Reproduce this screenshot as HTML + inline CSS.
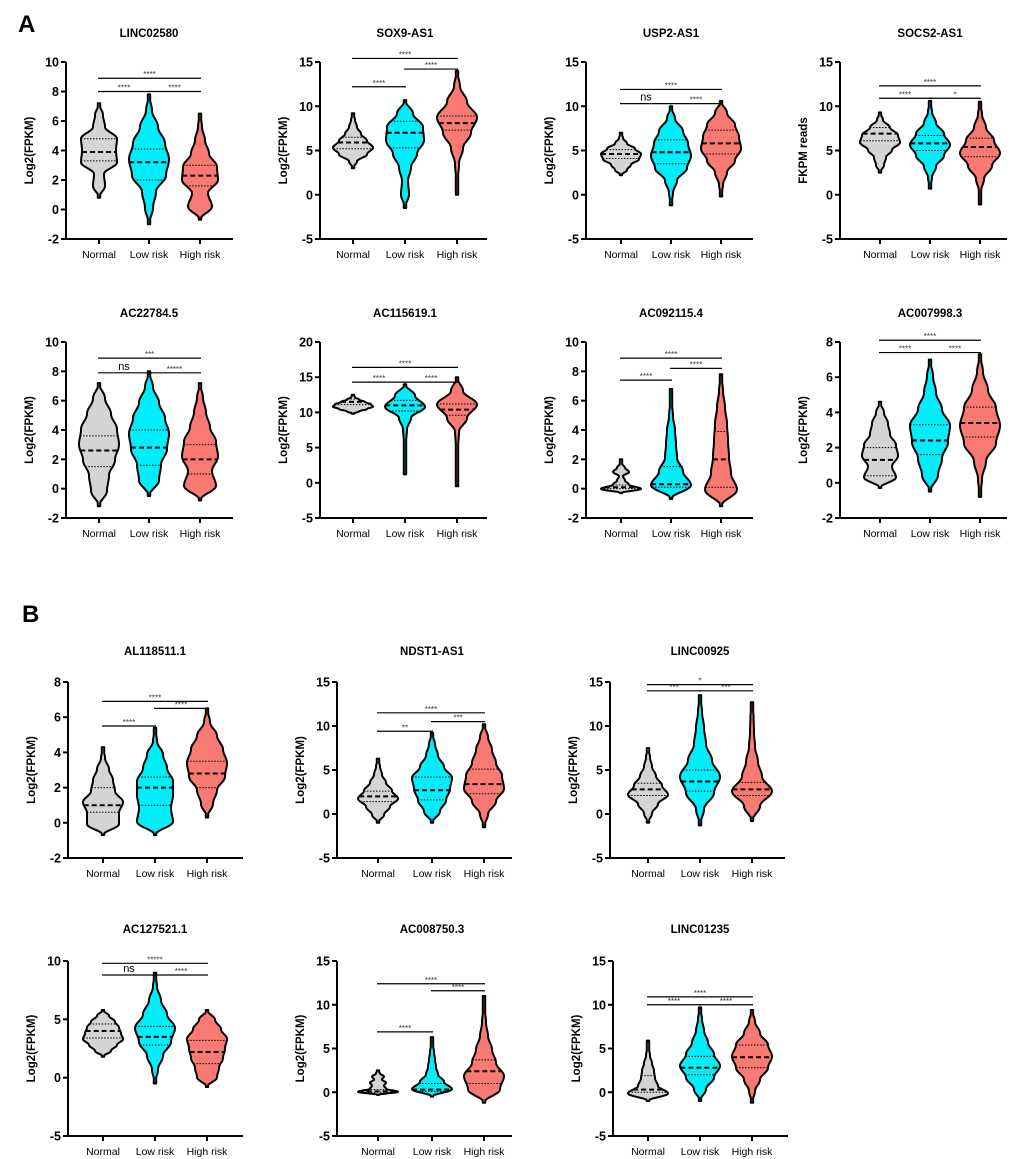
<!DOCTYPE html>
<html><head><meta charset="utf-8"><style>
html,body{margin:0;padding:0;background:#fff}
svg{display:block}
text{font-family:"Liberation Sans",Arial,sans-serif}
</style></head><body>
<svg id="fig" width="1020" height="1159" viewBox="0 0 1020 1159" xmlns="http://www.w3.org/2000/svg">
<text x="18" y="32" font-size="24" font-weight="bold">A</text>
<text x="22" y="622" font-size="24" font-weight="bold">B</text>
</svg>
<script>
const categories = ["Normal", "Low risk", "High risk"];
const titles = ["LINC02580","SOX9-AS1","USP2-AS1","SOCS2-AS1","AC22784.5","AC115619.1","AC092115.4","AC007998.3","AL118511.1","NDST1-AS1","LINC00925","AC127521.1","AC008750.3","LINC01235"];
const yLabels = ["Log2(FPKM)","Log2(FPKM)","Log2(FPKM)","FKPM reads","Log2(FPKM)","Log2(FPKM)","Log2(FPKM)","Log2(FPKM)","Log2(FPKM)","Log2(FPKM)","Log2(FPKM)","Log2(FPKM)","Log2(FPKM)","Log2(FPKM)"];
const yMax = [10,15,15,15,10,20,10,8,8,15,15,10,15,15];
const yMin = [-2,-5,-5,-5,-2,-5,-2,-2,-2,-5,-5,-5,-5,-5];
const yStep = [2,5,5,5,2,5,2,2,2,5,5,5,5,5];
// [min, q1, median, q3, max] per group (Normal, Low, High)
const stats = [
 [[0.8,3.3,3.9,4.8,7.2],[-1,2,3.2,4.1,7.8],[-0.7,1.6,2.3,3,6.5]],
 [[3,5.2,5.9,6.5,9.2],[-1.5,5.3,7,8.3,10.7],[0,7.3,8.1,8.9,14]],
 [[2.2,4.1,4.6,5.1,7],[-1.2,3.5,4.8,6.2,10],[-0.2,4.6,5.8,7.3,10.6]],
 [[2.5,6.1,6.9,7.6,9.3],[0.7,5,5.8,6.7,10.6],[-1.1,4.3,5.4,6.4,10.5]],
 [[-1.2,1.5,2.6,3.6,7.2],[-0.5,1.6,2.8,4,8],[-0.8,1,2,3,7.2]],
 [[9.8,11.1,11.5,11.9,12.5],[1.2,10.2,11,11.7,14],[-0.5,9.6,10.4,11.2,15]],
 [[-0.3,0,0.1,0.25,2],[-0.7,0.1,0.3,1.5,6.8],[-1.2,0.1,2,3.9,7.8]],
 [[-0.3,0.4,1.3,2,4.6],[-0.5,1.6,2.4,3.3,7],[-0.8,2.6,3.4,4.3,7.3]],
 [[-0.7,0.6,1,2,4.3],[-0.7,1,2,2.6,5.4],[0.3,2,2.8,3.5,6.5]],
 [[-1,1.4,2,2.6,6.3],[-1,1.6,2.7,4.2,9.2],[-1.5,2.3,3.4,5.1,10.2]],
 [[-1,2.1,2.8,3.5,7.5],[-1.3,2.6,3.7,5,13.5],[-0.8,2.1,2.8,3.6,12.7]],
 [[1.8,3.4,4,4.6,5.8],[-0.5,2.8,3.5,4.4,9],[-0.8,1.2,2.2,3.2,5.8]],
 [[-0.3,0,0.1,0.3,2.5],[-0.5,0.1,0.3,1,6.3],[-1.2,1,2.4,3.7,11]],
 [[-1,0,0.3,1.9,5.9],[-1,2,2.8,4.1,9.7],[-1.2,2.8,4,5.4,9.4]]
];
// relative half-width profile, 9 evenly spaced levels from min to max
const profiles = [
 [[0,.3,.25,.9,.85,.9,.3,.2,0],[0,.2,.35,.85,1,.8,.45,.15,0],[0,.6,.4,.9,.85,.45,.25,.1,0]],
 [[0,.2,.7,1,.7,.4,.2,.1,0],[0,.2,.15,.3,.6,.95,.9,.4,0],[0,.05,.1,.3,.7,1,.5,.15,0]],
 [[0,.3,.5,.9,1,.7,.3,.1,0],[0,.1,.3,.8,1,.85,.6,.2,0],[0,.1,.3,.7,1,.9,.7,.3,0]],
 [[0,.2,.3,.6,1,.9,.5,.15,0],[0,.1,.3,.7,1,.7,.3,.1,0],[0,.05,.2,.6,1,.7,.3,.1,0]],
 [[0,.4,.5,.8,1,.9,.6,.3,0],[0,.5,.6,.9,1,.8,.5,.2,0],[0,.8,.6,.9,.8,.5,.3,.15,0]],
 [[0,.3,.7,1,.9,.6,.3,.1,0],[0,.05,.05,.06,.1,.3,1,.5,0],[0,.05,.05,.06,.1,.5,1,.3,0]],
 [[0,1,.4,.2,.1,.4,.2,.05,0],[0,1,.6,.3,.25,.2,.1,.05,0],[0,.8,.5,.4,.35,.3,.2,.1,0]],
 [[0,.8,.6,.9,.8,.5,.4,.2,0],[0,.4,.6,.9,1,.6,.3,.15,0],[0,.1,.3,.8,1,.8,.4,.15,0]],
 [[0,.8,.8,1,.6,.5,.3,.1,0],[0,.9,.8,.9,.9,.6,.4,.1,0],[0,.3,.5,.9,1,.8,.5,.15,0]],
 [[0,.3,.6,1,.7,.4,.2,.1,0],[0,.4,.7,.9,1,.6,.3,.15,0],[0,.2,.6,1,.9,.6,.4,.2,0]],
 [[0,.2,.5,1,.7,.4,.2,.1,0],[0,.2,.7,1,.6,.3,.2,.1,0],[0,.4,1,.5,.3,.15,.1,.08,0]],
 [[0,.4,.7,1,.9,.8,.6,.3,0],[0,.15,.4,.8,1,.6,.3,.1,0],[0,.5,.6,.8,.9,1,.7,.4,0]],
 [[0,1,.4,.3,.4,.2,.3,.1,0],[0,1,.6,.3,.2,.15,.1,.05,0],[0,.8,1,.6,.4,.2,.1,.05,0]],
 [[0,1,.5,.35,.3,.2,.1,.05,0],[0,.3,.7,1,.7,.4,.2,.1,0],[0,.15,.4,.8,1,.8,.4,.15,0]]
];
// significance brackets: [fromGroup, toGroup, yValue, label]
const brackets = [
 [[0,1,8,"****"],[1,2,8,"****"],[0,2,8.9,"****"]],
 [[0,1,12.2,"****"],[1,2,14.2,"****"],[0,2,15.4,"****"]],
 [[0,1,10.3,"ns"],[1,2,10.3,"****"],[0,2,11.9,"****"]],
 [[0,1,10.9,"****"],[1,2,10.9,"*"],[0,2,12.3,"****"]],
 [[0,1,7.9,"ns"],[1,2,7.9,"*****"],[0,2,8.9,"***"]],
 [[0,1,14.3,"****"],[1,2,14.3,"****"],[0,2,16.4,"****"]],
 [[0,1,7.4,"****"],[1,2,8.2,"****"],[0,2,8.9,"****"]],
 [[0,1,7.4,"****"],[1,2,7.4,"****"],[0,2,8.1,"****"]],
 [[0,1,5.5,"****"],[1,2,6.5,"****"],[0,2,6.9,"****"]],
 [[0,1,9.4,"**"],[1,2,10.5,"***"],[0,2,11.5,"****"]],
 [[0,1,14,"***"],[1,2,14,"***"],[0,2,14.7,"*"]],
 [[0,1,8.8,"ns"],[1,2,8.8,"****"],[0,2,9.8,"*****"]],
 [[0,1,6.9,"****"],[1,2,11.6,"****"],[0,2,12.4,"****"]],
 [[0,1,10,"****"],[1,2,10,"****"],[0,2,10.9,"****"]]
];

const NS = "http://www.w3.org/2000/svg";
const svg = document.getElementById("fig");
const colors = ["#d4d4d4", "#00eefa", "#f87a72"];
const layout = [
 [66,62,239,[33,83,134],167],[320,62,239,[33,85,137],167],[586,62,239,[35,85,135],167],[840,62,239,[40,90,140],167],
 [66,342,518,[33,83,134],167],[320,342,518,[33,85,137],167],[586,342,518,[35,85,135],167],[840,342,518,[40,90,140],167],
 [68,682,858,[35,87,139],175],[337,682,858,[41,95,147],175],[610,682,858,[38,90,142],175],
 [68,961,1136,[35,87,139],175],[337,961,1136,[41,95,147],175],[613,961,1136,[35,87,139],175]
];
const titleY = [37,37,37,37,317,317,317,317,655,655,655,933,933,933];

function mk(tag, attrs, parent) {
  const e = document.createElementNS(NS, tag);
  for (const k in attrs) e.setAttribute(k, attrs[k]);
  (parent || svg).appendChild(e);
  return e;
}

for (let p = 0; p < titles.length; p++) {
  const [ax, top, bot, offs, len] = layout[p];
  const g = mk("g", {});
  
  
  const ys = v => bot - (v - yMin[p]) / (yMax[p] - yMin[p]) * (bot - top);
  const xs = i => ax + offs[i];

  const t = mk("text", {x: xs(1), y: titleY[p], "text-anchor": "middle", "font-size": 11.5, "font-weight": "bold"}, g);
  t.textContent = titles[p];
  
  

  const yl = mk("text", {transform: `translate(${ax - 33},${(top + bot) / 2}) rotate(-90)`, "text-anchor": "middle", "font-size": 11.5, "font-weight": "bold"}, g);
  yl.textContent = yLabels[p];
  
  

  for (let i = 0; i < 3; i++) {
    const s = stats[p][i], prof = profiles[p][i];
    const n = prof.length, H = 20;
    const wAt = v => {
      const f = (v - s[0]) / (s[4] - s[0]) * (n - 1);
      const k = Math.max(0, Math.min(n - 2, Math.floor(f)));
      const u = f - k, c = (1 - Math.cos(Math.PI * u)) / 2;
      return (prof[k] * (1 - c) + prof[k + 1] * c) * H;
    };
    const N = 80, right = [], left = [];
    for (let j = 0; j <= N; j++) {
      const v = s[0] + (s[4] - s[0]) * j / N;
      const w = Math.max(wAt(v), 1.2);
      right.push([xs(i) + w, ys(v)]);
      left.push([xs(i) - w, ys(v)]);
    }
    const pts = right.concat(left.reverse()).map(q => q[0].toFixed(1) + "," + q[1].toFixed(1)).join(" ");
    const vi = mk("polygon", {points: pts, fill: colors[i], stroke: "#000", "stroke-width": 2, "stroke-linejoin": "round"}, g);
    
    
    [1, 2, 3].forEach(qi => {
      const v = s[qi], w = wAt(v);
      const ln = mk("line", {x1: xs(i) - w, x2: xs(i) + w, y1: ys(v), y2: ys(v), stroke: "#000",
        "stroke-width": qi === 2 ? 2 : 1, "stroke-dasharray": qi === 2 ? "5,3" : "1.5,1.5"}, g);
      
      
    });
  }

  const yaxis = mk("line", {x1: ax, x2: ax, y1: top, y2: bot, stroke: "#000", "stroke-width": 2}, g);
  
  
  const xaxis = mk("line", {x1: ax - 1, x2: ax + len, y1: bot, y2: bot, stroke: "#000", "stroke-width": 2}, g);
  
  
  for (let v = yMin[p]; v <= yMax[p] + 1e-9; v += yStep[p]) {
    mk("line", {x1: ax - 5, x2: ax, y1: ys(v), y2: ys(v), stroke: "#000", "stroke-width": 2}, g);
    const tl = mk("text", {x: ax - 7, y: ys(v) + 4.5, "text-anchor": "end", "font-size": 12.5, "font-weight": "bold"}, g);
    tl.textContent = v;
    
    
  }
  for (let i = 0; i < 3; i++) {
    mk("line", {x1: xs(i), x2: xs(i), y1: bot, y2: bot + 5, stroke: "#000", "stroke-width": 2}, g);
    const cl = mk("text", {x: xs(i), y: bot + 19, "text-anchor": "middle", "font-size": 10.5}, g);
    cl.textContent = categories[i];
    
    
  }

  brackets[p].forEach(b => {
    const y = ys(b[2]);
    const bl = mk("line", {x1: xs(b[0]) - 1, x2: xs(b[1]) + 1, y1: y, y2: y, stroke: "#000", "stroke-width": 1.2}, g);
    
    
    const ns = b[3] === "ns";
    const bt = mk("text", {x: (xs(b[0]) + xs(b[1])) / 2, y: ns ? y - 3 : y - 1, "text-anchor": "middle",
      "font-size": ns ? 11 : 8, fill: ns ? "#000" : "#333"}, g);
    bt.textContent = b[3];
    
    
  });
}
</script>
</body></html>
